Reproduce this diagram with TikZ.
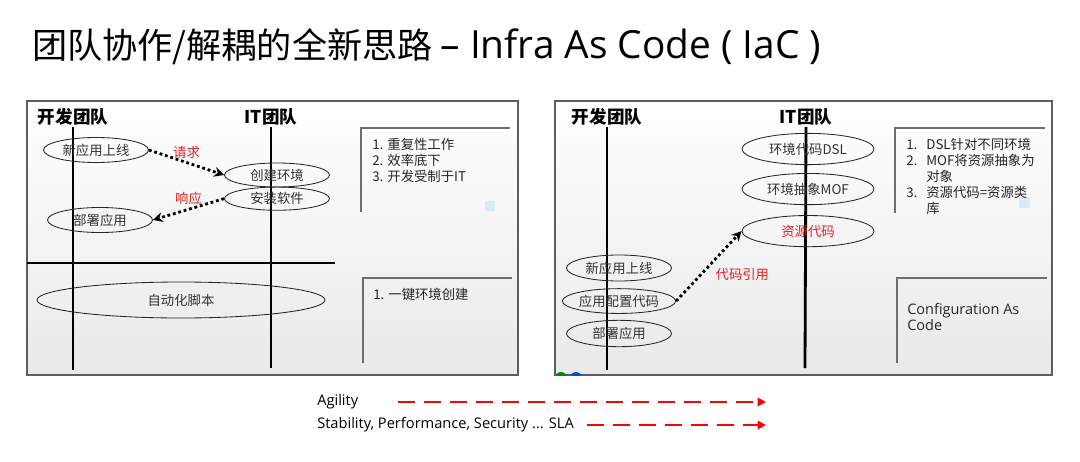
\documentclass[tikz,border=0pt]{standalone}
\usepackage{fontspec}
\setmainfont{Noto Sans CJK SC}
\newfontfamily\latinfont{Open Sans}
\usetikzlibrary{shapes.geometric, arrows.meta, positioning}

\definecolor{lblred}{HTML}{E02424}
\definecolor{framegray}{HTML}{5E5E5E}
\definecolor{panelbot}{HTML}{E9E9E9}
\definecolor{tipblue}{HTML}{D6ECF8}

\newcommand{\ritem}[2]{\makebox[1.5em][l]{#1}#2}

\begin{document}
\begin{tikzpicture}[x=0.025cm, y=-0.025cm,
        panel/.style={draw=framegray, line width=0.8pt, top color=white, bottom color=panelbot},
        team/.style={font=\fontsize{12.5}{14}\selectfont\bfseries, inner sep=1pt},
        lane/.style={line width=2pt, black},
        task/.style={ellipse, draw=black!85, line width=0.6pt, inner sep=0pt, minimum width=2.625cm, minimum height=0.625cm, text=black!80, font=\fontsize{9.5}{11}\selectfont},
        bigtask/.style={task, minimum width=3.3cm, minimum height=0.78cm},
        call/.style={line width=2pt, dotted, -{Stealth[length=7pt, width=7pt]}},
        lbl/.style={text=lblred, font=\fontsize{9.5}{11}\selectfont, inner sep=1pt},
        note/.style={draw=framegray!90, line width=0.8pt},
        list/.style={anchor=north west, align=left, inner sep=0pt, text=black!85, font=\fontsize{9.5}{11.4}\selectfont},
        trend/.style={red, line width=2pt, dash pattern=on 12pt off 6.5pt, -{Triangle[length=6pt, width=6pt]}},
        lowtxt/.style={anchor=west, inner sep=0pt, font=\latinfont\fontsize{10.4}{12}\selectfont}
    ]
        \useasboundingbox (0,0) rectangle (1080,461);

        % Title
        \node[anchor=west, inner sep=0pt, font=\fontsize{25}{30}\selectfont] (title) at (32,47) {团队协作/解耦的全新思路 {\latinfont\fontsize{27.6}{30}\selectfont – Infra As Code ( IaC )}};

        % Left panel
        \draw[panel] (27,101) rectangle (518,375);
        \node[team] (lDev) at (73,117) {开发团队};
        \node[team] (lIT) at (271,117) {IT团队};
        \coordinate (lDevEnd) at (73,370);
        \coordinate (lITEnd) at (271,368);
        \draw[lane] (lDev.south) -- (lDevEnd);
        \draw[lane] (lIT.south) -- (lITEnd);
        \draw[lane] (27,263) -- (335,263);

        \node[task] (lNew) at (96,150) {新应用上线};
        \node[task, minimum height=0.6cm] (lCreate) at (277,175) {创建环境};
        \node[task, minimum height=0.58cm, below=-0.02cm of lCreate] (lInstall) {安装软件};
        \node[task] (lDeploy) at (100,220) {部署应用};
        \node[task, minimum width=7.2cm, minimum height=0.9cm] (lScript) at (181,300) {自动化脚本};

        \draw[call] (lNew.east) -- (lCreate.west) node[midway, above=1pt, lbl] {请求};
        \draw[call] (lInstall.west) -- (lDeploy.east) node[midway, above=1pt, lbl] {响应};

        % Left notes
        \draw[note] (361,212) -- (361,128) -- (510,128);
        \fill[tipblue] (485,201) rectangle (495,211);
        \node[list] (lNote1) at (372,138) {1. 重复性工作\\2. 效率底下\\3. 开发受制于IT};
        \draw[note] (363,363) -- (363,278) -- (512,278);
        \node[list] (lNote2) at (373,288) {1. 一键环境创建};

        % Right panel
        \draw[panel] (555,101) rectangle (1052,375);
        \begin{scope}
            \clip (555,101) rectangle (1052,375);
            \fill[green!55!black] (561,378) circle (6);
            \fill[blue!60!cyan!80!black] (576,378) circle (6);
        \end{scope}
        \node[team] (rDev) at (607,117) {开发团队};
        \node[team] (rIT) at (806,117) {IT团队};
        \coordinate (rDevEnd) at (607,370);
        \coordinate (rITEnd) at (805,368);
        \draw[lane] (rDev.south) -- (rDevEnd);
        \draw[lane] (rIT.south) -- (rITEnd);

        \node[bigtask] (rDsl) at (808,149) {环境代码DSL};
        \node[bigtask, below=0.2cm of rDsl] (rMof) {环境抽象MOF};
        \node[bigtask, below=0.25cm of rMof, text=lblred] (rRes) {资源代码};
        \node[task, minimum height=0.65cm] (rNew) at (619,268) {新应用上线};
        \node[task, minimum height=0.62cm, below=0.17cm of rNew] (rCfg) {应用配置代码};
        \node[task, minimum height=0.66cm, below=0.15cm of rCfg] (rDeploy) {部署应用};

        \draw[call] (rCfg.east) -- (rRes.west) node[midway, below right=0cm and 0.1cm, lbl] {代码引用};

        % Right notes
        \draw[note] (895,213) -- (895,128) -- (1045,128);
        \fill[tipblue] (1019,197) rectangle (1030,208);
        \node[list, text width=3.6cm] (rNote1) at (906,138) {\ritem{1.}{DSL针对不同环境}\\\ritem{2.}{MOF将资源抽象为}\\\ritem{}{对象}\\\ritem{3.}{资源代码=资源类}\\\ritem{}{库}};
        \draw[note] (897,363) -- (897,278) -- (1047,278);
        \node[list, font=\latinfont\fontsize{10.3}{11.6}\selectfont] (rNote2) at (907,303) {Configuration As\\Code};

        % Trends
        \node[lowtxt] (agi) at (317,402) {Agility};
        \node[lowtxt] (sla) at (317,425) {Stability, Performance, Security ... SLA};
        \coordinate (agiFrom) at (398,402);
        \coordinate (agiTo) at (766,402);
        \coordinate (slaFrom) at (587,425);
        \coordinate (slaTo) at (766,425);
        \draw[trend] (agiFrom) -- (agiTo);
        \draw[trend] (slaFrom) -- (slaTo);

    \end{tikzpicture}
\end{document}
